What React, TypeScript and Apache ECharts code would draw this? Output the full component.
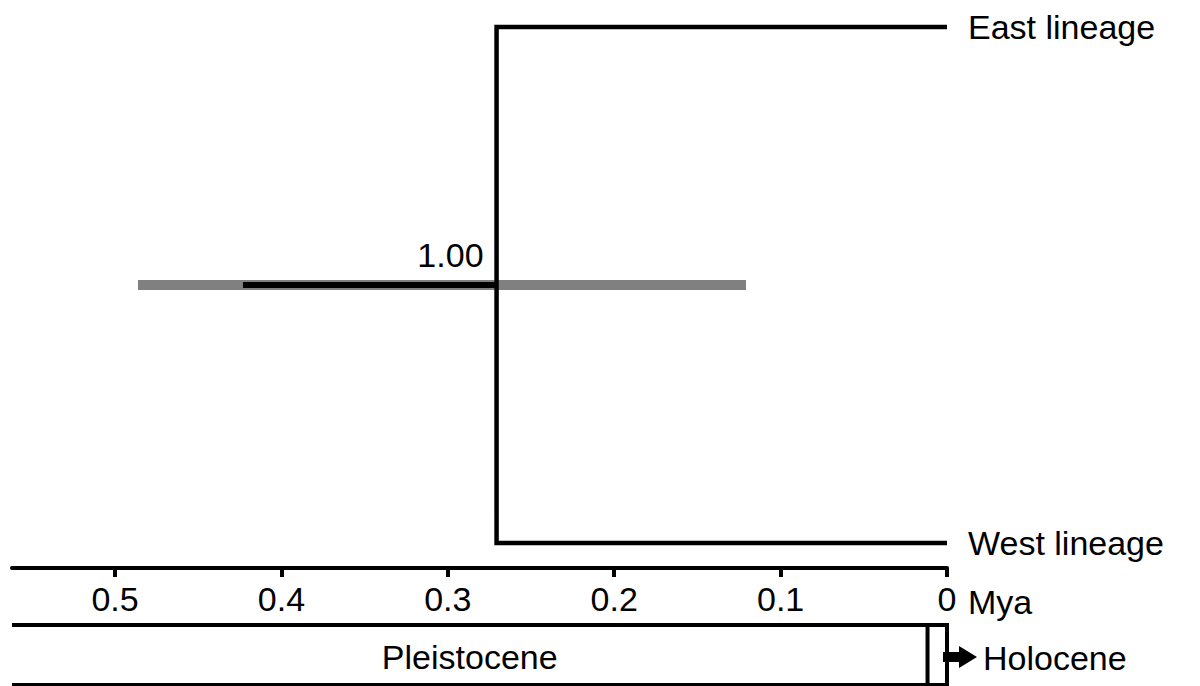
import React, { useEffect, useRef } from "react";
import * as echarts from "echarts";

// ---- data ----
const X_MAX = 0.5619; // left end of time axis (Mya)
const tickValues = [0, 0.1, 0.2, 0.3, 0.4, 0.5];
const taxa = ["East lineage", "West lineage"];
const taxonY = [1, 0];
const nodeAge = 0.2707;
const nodeY = 0.5;
const nodeSupport = "1.00";
const hpdInterval = [0.4862, 0.1208];
const blackBar = [0.4231, 0.2707];
const epochNames = ["Pleistocene", "Holocene"];
const epochStart = [2.58, 0.0117];
const epochEnd = [0.0117, 0];

const FONT = "Liberation Sans, Arial, sans-serif";
const FS = 34;
const TXT = "#000";

export default function App() {
  const ref = useRef<HTMLDivElement>(null);

  useEffect(() => {
    if (!ref.current) return;
    const chart = echarts.init(ref.current, null, { renderer: "svg" });

    const treeData = [
      [0, taxonY[0]],
      [nodeAge, taxonY[0]],
      [nodeAge, taxonY[1]],
      [0, taxonY[1]],
    ];

    const option: any = {
      animation: false,
      backgroundColor: "#ffffff",
      grid: [
        { left: 12, right: 253, top: 0, height: 568 },
        { left: 12, right: 253, top: 625, height: 60 },
      ],
      xAxis: [
        {
          type: "value",
          gridIndex: 0,
          inverse: true,
          min: 0,
          max: X_MAX,
          splitLine: { show: false },
          axisLine: { show: true, onZero: false, lineStyle: { color: "#000", width: 4 } },
          axisTick: {
            show: true,
            length: 9,
            lineStyle: { color: "#000", width: 4 },
            customValues: tickValues,
          },
          axisLabel: {
            show: true,
            margin: 14,
            fontSize: FS,
            color: TXT,
            fontFamily: FONT,
            customValues: tickValues,
            formatter: (v: number) => String(Math.round(v * 10) / 10),
          },
        },
        {
          type: "value",
          gridIndex: 1,
          inverse: true,
          min: 0,
          max: X_MAX,
          show: false,
        },
      ],
      yAxis: [
        { type: "value", gridIndex: 0, min: -0.0484, max: 1.0523, show: false },
        { type: "value", gridIndex: 1, min: 0, max: 1, show: false },
      ],
      series: [
        {
          type: "line",
          xAxisIndex: 0,
          yAxisIndex: 0,
          data: [
            [hpdInterval[0], nodeY],
            [hpdInterval[1], nodeY],
          ],
          showSymbol: false,
          lineStyle: { color: "#808080", width: 10, cap: "butt" },
          z: 1,
          silent: true,
        },
        {
          type: "line",
          xAxisIndex: 0,
          yAxisIndex: 0,
          data: [
            [blackBar[0], nodeY],
            [blackBar[1], nodeY],
          ],
          showSymbol: false,
          lineStyle: { color: "#000", width: 6, cap: "butt" },
          z: 2,
          silent: true,
        },
        {
          type: "line",
          xAxisIndex: 0,
          yAxisIndex: 0,
          data: treeData,
          showSymbol: false,
          lineStyle: { color: "#000", width: 4.5, join: "miter" },
          z: 3,
          silent: true,
        },
        {
          type: "scatter",
          xAxisIndex: 0,
          yAxisIndex: 0,
          symbolSize: 0,
          itemStyle: { opacity: 1, color: "#000" },
          data: taxa.map((t, i) => ({ value: [0, taxonY[i]], name: t })),
          label: {
            show: true,
            position: "right",
            distance: 21,
            formatter: (p: any) => p.name,
            fontSize: FS,
            color: TXT,
            fontFamily: FONT,
          },
          z: 4,
        },
        {
          type: "scatter",
          xAxisIndex: 0,
          yAxisIndex: 0,
          symbolSize: 0,
          itemStyle: { opacity: 1, color: "#000" },
          data: [{ value: [nodeAge, nodeY], name: nodeSupport }],
          label: {
            show: true,
            position: [-13, -30],
            align: "right",
            verticalAlign: "middle",
            formatter: (p: any) => p.name,
            fontSize: FS,
            color: TXT,
            fontFamily: FONT,
          },
          z: 4,
        },
        {
          type: "custom",
          xAxisIndex: 1,
          yAxisIndex: 1,
          clip: false,
          data: epochNames.map((n, i) => [epochStart[i], epochEnd[i], n]),
          renderItem: (params: any, api: any) => {
            const s = Math.min(api.value(0), X_MAX);
            const e = api.value(1);
            const p1 = api.coord([s, 1]);
            const p2 = api.coord([e, 1]);
            const p3 = api.coord([e, 0]);
            const p4 = api.coord([s, 0]);
            const children: any[] = [
              {
                type: "polyline",
                shape: { points: [p1, p2, p3, p4] },
                style: { stroke: "#000", lineWidth: 4, fill: null },
              },
            ];
            if (params.dataIndex === 0) {
              children.push({
                type: "text",
                x: (p1[0] + p2[0]) / 2,
                y: (p1[1] + p4[1]) / 2 + 2,
                style: {
                  text: epochNames[params.dataIndex],
                  fontSize: FS,
                  fontFamily: FONT,
                  fill: TXT,
                  align: "center",
                  verticalAlign: "middle",
                },
              });
            }
            return { type: "group", children };
          },
        },
      ],
      graphic: [
        {
          type: "text",
          x: 968,
          y: 602,
          style: {
            text: "Mya",
            fontSize: FS,
            fontFamily: FONT,
            fill: TXT,
            verticalAlign: "middle",
          },
        },
        {
          type: "polygon",
          shape: {
            points: [
              [943, 652],
              [959, 652],
              [959, 646],
              [977, 657],
              [959, 668],
              [959, 662],
              [943, 662],
            ],
          },
          style: { fill: "#000" },
        },
        {
          type: "text",
          x: 983,
          y: 658,
          style: {
            text: epochNames[1],
            fontSize: FS,
            fontFamily: FONT,
            fill: TXT,
            verticalAlign: "middle",
          },
        },
      ],
    };

    chart.setOption(option);
    return () => chart.dispose();
  }, []);

  return (
    <div
      ref={ref}
      style={{ position: "fixed", left: 0, top: 0, width: 1200, height: 686 }}
    />
  );
}
